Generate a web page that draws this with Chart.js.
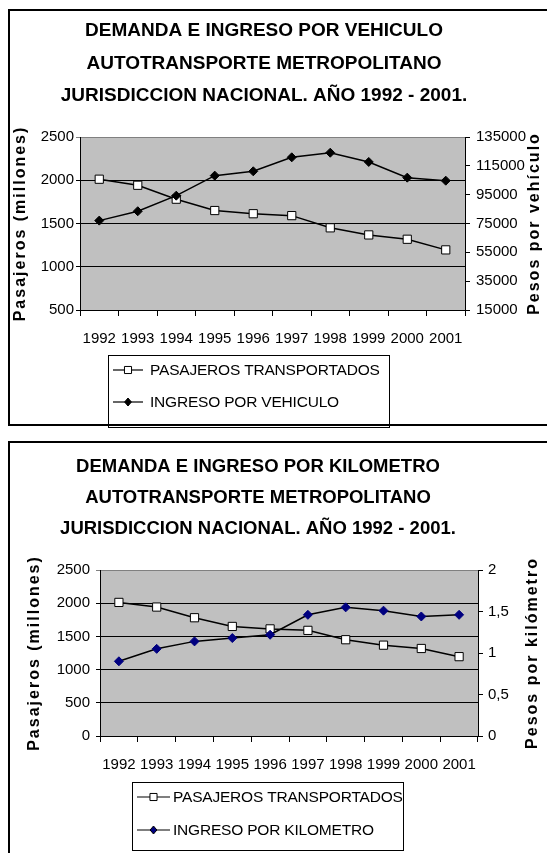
<!DOCTYPE html>
<html>
<head>
<meta charset="utf-8">
<script src="https://cdn.jsdelivr.net/npm/chart.js@4/dist/chart.umd.min.js"></script>
<style>
  html, body { margin: 0; padding: 0; background: #fff; }
  body { width: 547px; height: 853px; overflow: hidden; position: relative; }
  .wrap { position: absolute; left: 0; width: 547px; }
  .frame { position: absolute; border: 2px solid #000; box-sizing: border-box; pointer-events: none; z-index: 5; }
</style>
</head>
<body>
<div class="wrap" style="top:0;height:430px;"><canvas id="c1" width="547" height="430"></canvas></div>
<div class="wrap" style="top:432px;height:421px;"><canvas id="c2" width="547" height="421"></canvas></div>
<div class="frame" style="left:8px;top:9px;width:600px;height:417px;"></div>
<div class="frame" style="left:8px;top:441px;width:600px;height:500px;"></div>
<script>
// ---------- DATA ----------
const years = ['1992','1993','1994','1995','1996','1997','1998','1999','2000','2001'];
const pasajeros = [2012, 1942, 1781, 1650, 1613, 1591, 1450, 1368, 1318, 1195];
const ingresoVehiculo = [77000, 83500, 94300, 108200, 111200, 120900, 124100, 117700, 106800, 104700];
const ingresoKilometro = [0.90, 1.05, 1.14, 1.18, 1.22, 1.46, 1.55, 1.51, 1.44, 1.46];
const title1 = ['DEMANDA E INGRESO POR VEHICULO', 'AUTOTRANSPORTE METROPOLITANO', 'JURISDICCION NACIONAL. AÑO 1992 - 2001.'];
const title2 = ['DEMANDA E INGRESO POR KILOMETRO', 'AUTOTRANSPORTE METROPOLITANO', 'JURISDICCION NACIONAL. AÑO 1992 - 2001.'];
const labelPasajeros = 'PASAJEROS TRANSPORTADOS';
const labelVehiculo = 'INGRESO POR VEHICULO';
const labelKilometro = 'INGRESO POR KILOMETRO';
const axisLeft = 'Pasajeros (millones)';
const axisRight1 = 'Pesos por vehículo';
const axisRight2 = 'Pesos por kilómetro';

// ---------- STYLE ----------
const FONT = '"Liberation Sans", Arial, sans-serif';
Chart.defaults.font.family = FONT;
Chart.defaults.color = '#000';

function drawMarker(ctx, style, x, y, r, fill) {
  ctx.save();
  ctx.beginPath();
  if (style === 'rect') {
    const s = r * Math.SQRT1_2;
    ctx.rect(x - s, y - s, 2 * s, 2 * s);
  } else {
    ctx.moveTo(x - r * 0.85, y); ctx.lineTo(x, y - r); ctx.lineTo(x + r * 0.85, y); ctx.lineTo(x, y + r); ctx.closePath();
  }
  ctx.fillStyle = fill; ctx.fill();
  ctx.lineWidth = 1; ctx.strokeStyle = '#000'; ctx.stroke();
  ctx.restore();
}

const plotBg = {
  id: 'plotBg',
  beforeDraw(chart) {
    const {ctx, chartArea: a} = chart;
    ctx.save();
    ctx.fillStyle = '#C0C0C0';
    ctx.fillRect(a.left, a.top, a.right - a.left, a.bottom - a.top);
    ctx.restore();
  }
};

const extras = {
  id: 'extras',
  afterDraw(chart, args, o) {
    const {ctx, chartArea: a} = chart;
    const cy = (a.top + a.bottom) / 2;
    // axis titles (rotated, reading upward)
    ctx.save();
    ctx.font = 'bold 16px ' + FONT;
    ctx.fillStyle = '#000';
    ctx.textAlign = 'center';
    ctx.textBaseline = 'middle';
    try { ctx.letterSpacing = '2px'; } catch (e) {}
    for (const t of o.axisTitles) {
      ctx.save();
      ctx.translate(t.x, cy);
      ctx.rotate(-Math.PI / 2);
      ctx.fillText(t.text, 0, 0);
      ctx.restore();
    }
    ctx.restore();
    // legend box
    const L = o.legend;
    ctx.save();
    ctx.fillStyle = '#fff';
    ctx.fillRect(L.x, L.y, L.w, L.h);
    ctx.strokeStyle = '#000';
    ctx.lineWidth = 1;
    ctx.strokeRect(L.x + 0.5, L.y + 0.5, L.w, L.h);
    ctx.font = '15.5px ' + FONT;
    ctx.textBaseline = 'middle';
    ctx.textAlign = 'left';
    try { ctx.letterSpacing = '-0.2px'; } catch (e) {}
    chart.data.datasets.forEach((ds, i) => {
      const y = L.rows[i];
      ctx.beginPath();
      ctx.moveTo(L.iconX0, y); ctx.lineTo(L.iconX1, y);
      ctx.strokeStyle = '#000'; ctx.lineWidth = 1.2; ctx.stroke();
      drawMarker(ctx, ds.pointStyle, (L.iconX0 + L.iconX1) / 2, y, ds.pointStyle === 'rect' ? 5 : 4, ds.pointBackgroundColor);
      ctx.fillStyle = '#000';
      ctx.fillText(ds.label, L.textX, y + 1);
    });
    ctx.restore();
  }
};

function makeChart(id, cfg) {
  const tickFont = {size: 15, family: FONT};
  return new Chart(document.getElementById(id), {
    type: 'line',
    data: {
      labels: years,
      datasets: [
        {
          label: labelPasajeros, data: pasajeros, yAxisID: 'y', order: 1,
          borderColor: '#000', borderWidth: 1.5, tension: 0,
          pointStyle: 'rect', pointRadius: 5.8, pointBackgroundColor: '#fff',
          pointBorderColor: '#000', pointBorderWidth: 1
        },
        {
          label: cfg.label2, data: cfg.data2, yAxisID: 'y1', order: 0,
          borderColor: '#000', borderWidth: 1.5, tension: 0,
          pointStyle: 'rectRot', pointRadius: 4.5, pointBackgroundColor: cfg.diamond,
          pointBorderColor: cfg.diamond, pointBorderWidth: 1
        }
      ]
    },
    options: {
      responsive: false,
      animation: false,
      events: [],
      layout: {padding: {left: 0, right: cfg.padRight, top: 0, bottom: cfg.padBottom}},
      plugins: {
        legend: {display: false},
        tooltip: {enabled: false},
        title: {
          display: true, text: cfg.title, color: '#000',
          font: {size: cfg.titleSize, weight: 'bold', family: FONT, lineHeight: cfg.titleLH / cfg.titleSize},
          padding: {top: cfg.titleTop, bottom: cfg.titleBottom}
        },
        extras: {axisTitles: cfg.axisTitles, legend: cfg.legend}
      },
      scales: {
        x: {
          type: 'category', offset: true,
          grid: {display: true, drawOnChartArea: false, drawTicks: true, tickLength: 6, color: '#000', offset: true},
          border: {color: '#000', width: 1},
          ticks: {font: tickFont, color: '#000', padding: cfg.xPad, maxRotation: 0, minRotation: 0, autoSkip: false},
          afterFit: s => { s.height = 40; }
        },
        y: {
          position: 'left', min: cfg.yMin, max: 2500,
          grid: {color: c => (c.tick && c.tick.value === 2500 ? '#808080' : '#000'), tickLength: 4, lineWidth: 1},
          border: {color: '#000', width: 1},
          ticks: {stepSize: 500, font: tickFont, color: '#000', padding: cfg.yPad, callback: v => String(v)},
          afterFit: s => { s.width = cfg.yWidth; }
        },
        y1: {
          position: 'right', min: cfg.y1Min, max: cfg.y1Max,
          grid: {drawOnChartArea: false, color: '#000', tickLength: 5},
          border: {color: '#000', width: 1},
          ticks: {stepSize: cfg.y1Step, font: tickFont, color: '#000', padding: cfg.y1Pad, callback: cfg.y1Fmt},
          afterFit: s => { s.width = cfg.y1Width; }
        }
      }
    },
    plugins: [plotBg, extras]
  });
}

// Chart 1 (canvas at page y=0)
makeChart('c1', {
  label2: labelVehiculo, data2: ingresoVehiculo, diamond: '#000',
  title: title1, titleSize: 19, titleLH: 32.5, titleTop: 15, titleBottom: 24.5,
  padRight: 19, padBottom: 80, xPad: 14,
  yMin: 500, yWidth: 80, yPad: 2,
  y1Min: 15000, y1Max: 135000, y1Step: 20000, y1Pad: 6, y1Width: 63,
  y1Fmt: v => String(v),
  axisTitles: [{x: 21, text: axisLeft}, {x: 535, text: axisRight1}],
  legend: {x: 108, y: 355, w: 281, h: 72, rows: [370, 402], iconX0: 113, iconX1: 143, textX: 150}
});

// Chart 2 (canvas at page y=432)
makeChart('c2', {
  label2: labelKilometro, data2: ingresoKilometro, diamond: '#000080',
  title: title2, titleSize: 18.5, titleLH: 31, titleTop: 19, titleBottom: 26,
  padRight: 31, padBottom: 77, xPad: 14,
  yMin: 0, yWidth: 100, yPad: 6,
  y1Min: 0, y1Max: 2, y1Step: 0.5, y1Pad: 5, y1Width: 38,
  y1Fmt: v => String(v).replace('.', ','),
  axisTitles: [{x: 35, text: axisLeft}, {x: 533, text: axisRight2}],
  legend: {x: 132, y: 350, w: 271, h: 68, rows: [365, 398], iconX0: 137, iconX1: 170, textX: 173}
});
</script>
</body>
</html>
